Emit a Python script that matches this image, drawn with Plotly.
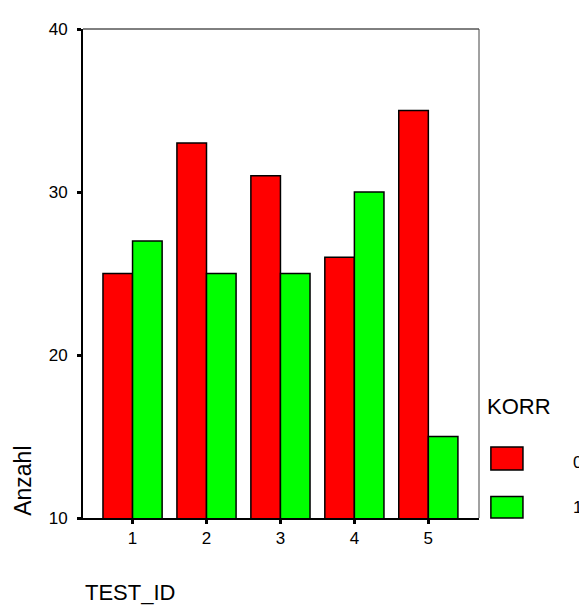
import plotly.graph_objects as go

categories = ["1", "2", "3", "4", "5"]
korr0 = [25, 33, 31, 26, 35]
korr1 = [27, 25, 25, 30, 15]
series_names = ["0", "1"]
y_tickvals = [10, 20, 30, 40]

RED = "#ff0000"
GREEN = "#00ff00"
FONT = "Liberation Sans, Arial, sans-serif"

x = [int(c) for c in categories]

fig = go.Figure()
fig.add_trace(go.Bar(x=x, y=korr0, name=series_names[0], marker=dict(color=RED, line=dict(color="black", width=1.5))))
fig.add_trace(go.Bar(x=x, y=korr1, name=series_names[1], marker=dict(color=GREEN, line=dict(color="black", width=1.5))))

fig.update_layout(
    width=579, height=597,
    margin=dict(l=75, r=108, t=12, b=87),
    paper_bgcolor="white", plot_bgcolor="white",
    barmode="group", bargap=0.2, bargroupgap=0,
    showlegend=False,
    font=dict(family=FONT, color="black", size=17),
    xaxis=dict(range=[0.33, 5.685], tickvals=x, ticktext=categories,
               showline=True, linecolor="black", linewidth=2, mirror=False,
               ticks="outside", ticklen=4, tickwidth=3, tickcolor="black",
               ticklabelstandoff=0,
               showgrid=False, zeroline=False, tickfont=dict(size=17)),
    yaxis=dict(range=[10, 40], tickvals=y_tickvals,
               showline=True, linecolor="black", linewidth=2,
               ticks="outside", ticklen=4, tickwidth=3, tickcolor="black",
               ticklabelstandoff=6,
               showgrid=False, zeroline=False, tickfont=dict(size=17)),
)

# top and right frame lines
fig.add_shape(type="line", xref="paper", yref="paper", x0=0, x1=1, y0=1, y1=1, line=dict(color="black", width=1))
fig.add_shape(type="line", xref="paper", yref="paper", x0=1, x1=1, y0=0, y1=1, line=dict(color="#444", width=1))

# custom legend
fig.add_shape(type="rect", xref="paper", yref="paper", x0=1.030, x1=1.111, y0=0.098, y1=0.145,
              fillcolor=RED, line=dict(color="black", width=1.5))
fig.add_shape(type="rect", xref="paper", yref="paper", x0=1.030, x1=1.111, y0=0.0, y1=0.044,
              fillcolor=GREEN, line=dict(color="black", width=1.5))
fig.add_annotation(xref="paper", yref="paper", x=1.015, y=0.229, text="KORR", showarrow=False,
                   xanchor="left", yanchor="middle", font=dict(size=22))
fig.add_annotation(xref="paper", yref="paper", x=1.266, y=0.1145, text=series_names[0], showarrow=False,
                   xanchor="right", yanchor="middle", font=dict(size=17))
fig.add_annotation(xref="paper", yref="paper", x=1.266, y=0.021, text=series_names[1], showarrow=False,
                   xanchor="right", yanchor="middle", font=dict(size=17))

# axis titles
fig.add_annotation(xref="paper", yref="paper", x=-0.152, y=0.0, text="Anzahl", showarrow=False,
                   textangle=-90, xanchor="center", yanchor="bottom", font=dict(size=23))
fig.add_annotation(xref="paper", yref="paper", x=0.0, y=-0.1526, text="TEST_ID", showarrow=False,
                   xanchor="left", yanchor="middle", font=dict(size=22))

fig.write_html("out.html")
